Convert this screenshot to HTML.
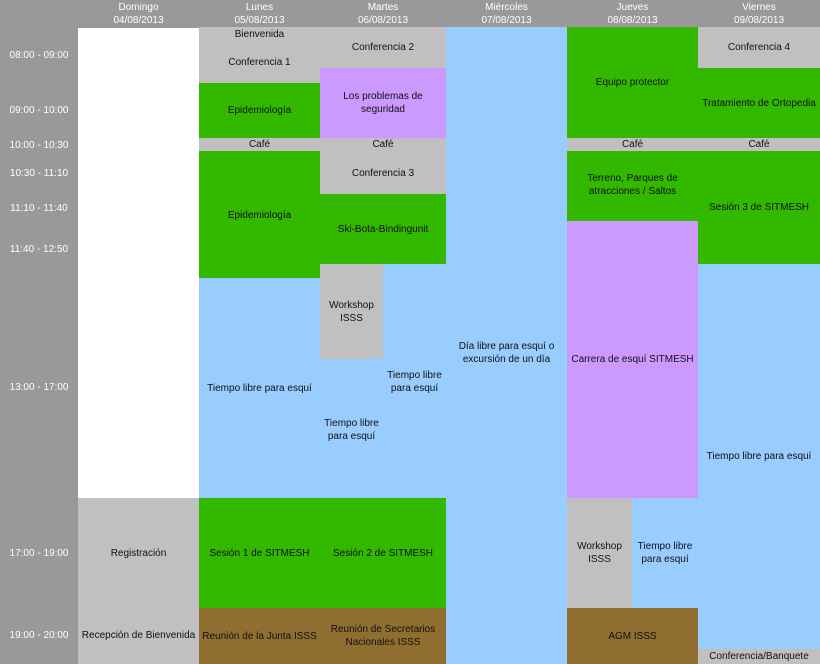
<!DOCTYPE html>
<html><head><meta charset="utf-8"><style>
html,body{margin:0;padding:0}
body{width:820px;height:664px;position:relative;overflow:hidden;background:#999;font-family:"Liberation Sans",sans-serif;font-size:10px;color:#111}
.b{position:absolute;display:flex;align-items:center;justify-content:center;text-align:center;line-height:13px;box-sizing:border-box}
.g{background:#c0c0c0}.gr{background:#33b800}.bl{background:#99ccff}.p{background:#cc99ff}.br{background:#8f6e30}.w{background:#fff}
.h{color:#fff;line-height:13px}
.t{color:#fff}
</style></head><body>
<!-- header -->
<div class="b h" style="left:78px;top:0;width:121px;height:27px">Domingo<br>04/08/2013</div>
<div class="b h" style="left:199px;top:0;width:121px;height:27px">Lunes<br>05/08/2013</div>
<div class="b h" style="left:320px;top:0;width:126px;height:27px">Martes<br>06/08/2013</div>
<div class="b h" style="left:446px;top:0;width:121px;height:27px">Miércoles<br>07/08/2013</div>
<div class="b h" style="left:567px;top:0;width:131px;height:27px">Jueves<br>08/08/2013</div>
<div class="b h" style="left:698px;top:0;width:122px;height:27px">Viernes<br>09/08/2013</div>
<!-- times -->
<div class="b t" style="left:0;top:48px;width:78px;height:14px">08:00 - 09:00</div>
<div class="b t" style="left:0;top:103px;width:78px;height:14px">09:00 - 10:00</div>
<div class="b t" style="left:0;top:138px;width:78px;height:14px">10:00 - 10:30</div>
<div class="b t" style="left:0;top:166px;width:78px;height:14px">10:30 - 11:10</div>
<div class="b t" style="left:0;top:201px;width:78px;height:14px">11:10 - 11:40</div>
<div class="b t" style="left:0;top:242px;width:78px;height:14px">11:40 - 12:50</div>
<div class="b t" style="left:0;top:380px;width:78px;height:14px">13:00 - 17:00</div>
<div class="b t" style="left:0;top:546px;width:78px;height:14px">17:00 - 19:00</div>
<div class="b t" style="left:0;top:628px;width:78px;height:14px">19:00 - 20:00</div>
<!-- Domingo -->
<div class="b w" style="left:78px;top:28px;width:121px;height:470px"></div>
<div class="b g" style="left:78px;top:498px;width:121px;height:166px"></div>
<div class="b" style="left:78px;top:546px;width:121px;height:14px">Registración</div>
<div class="b" style="left:78px;top:628px;width:121px;height:14px">Recepción de Bienvenida</div>
<!-- Lunes -->
<div class="b g" style="left:199px;top:27px;width:121px;height:56px"></div>
<div class="b" style="left:199px;top:28px;width:121px;height:13px">Bienvenida</div>
<div class="b" style="left:199px;top:56px;width:121px;height:13px">Conferencia 1</div>
<div class="b gr" style="left:199px;top:83px;width:121px;height:55px">Epidemiología</div>
<div class="b g" style="left:199px;top:138px;width:121px;height:13px">Café</div>
<div class="b gr" style="left:199px;top:151px;width:121px;height:127px;padding-bottom:2px;align-items:flex-start;padding-top:58px">Epidemiología</div>
<div class="b bl" style="left:199px;top:278px;width:121px;height:220px"></div>
<div class="b" style="left:199px;top:381px;width:121px;height:14px">Tiempo libre para esquí</div>
<div class="b gr" style="left:199px;top:498px;width:247px;height:110px"></div>
<div class="b" style="left:199px;top:546px;width:121px;height:14px">Sesión 1 de SITMESH</div>
<div class="b" style="left:320px;top:546px;width:126px;height:14px">Sesión 2 de SITMESH</div>
<div class="b br" style="left:199px;top:608px;width:121px;height:56px">Reunión de la Junta ISSS</div>
<!-- Martes -->
<div class="b g" style="left:320px;top:27px;width:126px;height:41px">Conferencia 2</div>
<div class="b p" style="left:320px;top:68px;width:126px;height:70px">Los problemas de<br>seguridad</div>
<div class="b g" style="left:320px;top:138px;width:126px;height:56px;align-items:flex-start">Café</div>
<div class="b" style="left:320px;top:166px;width:126px;height:14px">Conferencia 3</div>
<div class="b gr" style="left:320px;top:194px;width:126px;height:70px">Ski-Bota-Bindingunit</div>
<div class="b bl" style="left:320px;top:264px;width:126px;height:234px"></div>
<div class="b g" style="left:320px;top:264px;width:63px;height:95px">Workshop<br>ISSS</div>
<div class="b" style="left:383px;top:368px;width:63px;height:28px">Tiempo libre<br>para esquí</div>
<div class="b" style="left:320px;top:416px;width:63px;height:28px">Tiempo libre<br>para esquí</div>
<div class="b br" style="left:320px;top:608px;width:126px;height:56px">Reunión de Secretarios<br>Nacionales ISSS</div>
<!-- Miércoles -->
<div class="b bl" style="left:446px;top:27px;width:121px;height:637px;padding-top:14px">Día libre para esquí o<br>excursión de un día</div>
<!-- Jueves -->
<div class="b gr" style="left:567px;top:27px;width:131px;height:111px;padding-bottom:
0;align-items:flex-start;padding-top:49px">Equipo protector</div>
<div class="b g" style="left:567px;top:138px;width:131px;height:13px">Café</div>
<div class="b gr" style="left:567px;top:151px;width:131px;height:70px;padding-bottom:2px">Terreno, Parques de<br>atracciones / Saltos</div>
<div class="b p" style="left:567px;top:221px;width:131px;height:277px">Carrera de esquí SITMESH</div>
<div class="b g" style="left:567px;top:498px;width:65px;height:110px">Workshop<br>ISSS</div>
<div class="b bl" style="left:632px;top:498px;width:66px;height:110px">Tiempo libre<br>para esquí</div>
<div class="b br" style="left:567px;top:608px;width:131px;height:56px">AGM ISSS</div>
<!-- Viernes -->
<div class="b g" style="left:698px;top:27px;width:122px;height:41px">Conferencia 4</div>
<div class="b gr" style="left:698px;top:68px;width:122px;height:70px">Tratamiento de Ortopedia</div>
<div class="b g" style="left:698px;top:138px;width:122px;height:13px">Café</div>
<div class="b gr" style="left:698px;top:151px;width:122px;height:113px">Sesión 3 de SITMESH</div>
<div class="b bl" style="left:698px;top:264px;width:122px;height:385px;padding-top:0">
<span style="position:absolute;top:186px;left:0;width:122px">Tiempo libre para esquí</span></div>
<div class="b g" style="left:698px;top:649px;width:122px;height:15px">Conferencia/Banquete</div>
</body></html>
